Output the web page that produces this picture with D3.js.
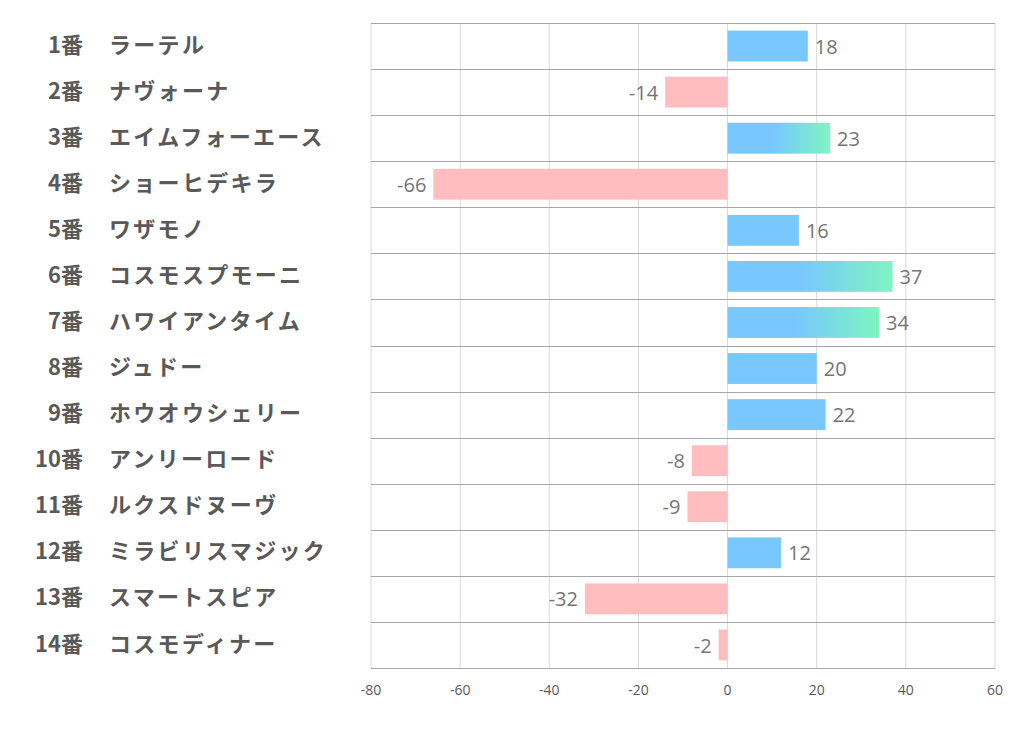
<!DOCTYPE html>
<html><head><meta charset="utf-8">
<script src="https://cdn.jsdelivr.net/npm/d3@7"></script>
<style>body{margin:0;background:#fff;} svg{display:block;}</style>
</head><body>
<svg id="c" width="1022" height="730"></svg>
<script>
const numbers = ["1番","2番","3番","4番","5番","6番","7番","8番","9番","10番","11番","12番","13番","14番"];
const names = ["ラーテル","ナヴォーナ","エイムフォーエース","ショーヒデキラ","ワザモノ","コスモスプモーニ","ハワイアンタイム","ジュドー","ホウオウシェリー","アンリーロード","ルクスドヌーヴ","ミラビリスマジック","スマートスピア","コスモディナー"];
const values = [18,-14,23,-66,16,37,34,20,22,-8,-9,12,-32,-2];
const xTicks = [-80,-60,-40,-20,0,20,40,60];

const svg = d3.select("#c");
const m = {l:371, r:995, t:23, b:668};
const x = d3.scaleLinear().domain([-80,60]).range([m.l, m.r]);
const y = d3.scaleBand().domain(d3.range(values.length)).range([m.t, m.b]).paddingInner(0.33).paddingOuter(0.165);
const rows = d3.scaleBand().domain(d3.range(values.length)).range([m.t, m.b]);

const top3 = values.slice().sort((a,b)=>b-a).slice(0,3);
const defs = svg.append("defs");
const g = defs.append("linearGradient").attr("id","grad").attr("x1","0").attr("x2","1").attr("y1","0").attr("y2","0");
g.append("stop").attr("offset","0.45").attr("stop-color","#78c8fe");
g.append("stop").attr("offset","1").attr("stop-color","#7ef5c0");

// vertical grid
svg.append("g").selectAll("line").data(xTicks).join("line")
  .attr("x1",d=>x(d)).attr("x2",d=>x(d)).attr("y1",m.t).attr("y2",m.b)
  .attr("stroke","#d9d9d9").attr("stroke-width",1);
// horizontal row lines
svg.append("g").selectAll("line").data(d3.range(values.length+1)).join("line")
  .attr("x1",m.l).attr("x2",m.r)
  .attr("y1",i=>Math.round(i<values.length? rows(i): m.b)+0.5).attr("y2",i=>Math.round(i<values.length? rows(i): m.b)+0.5)
  .attr("stroke","#a6a6a6").attr("stroke-width",1);

// bars
svg.append("g").selectAll("rect").data(values).join("rect")
  .attr("x",d=>x(Math.min(0,d))).attr("width",d=>Math.abs(x(d)-x(0)))
  .attr("y",(d,i)=>y(i)).attr("height",y.bandwidth())
  .attr("fill",d=> d<0 ? "#ffbdbf" : (top3.includes(d) ? "url(#grad)" : "#78c8fe"));

// value labels
svg.append("g").selectAll("text").data(values).join("text")
  .attr("x",d=> d<0 ? x(d)-7 : x(d)+7)
  .attr("y",(d,i)=>y(i)+y.bandwidth()/2)
  .attr("dy","0.38em")
  .attr("text-anchor",d=> d<0 ? "end":"start")
  .attr("font-family","'Open Sans','Noto Sans',sans-serif").attr("font-size",20)
  .attr("fill","#757575").text(d=>d);

// x axis tick labels
svg.append("g").selectAll("text").data(xTicks).join("text")
  .attr("x",d=>x(d)).attr("y",695).attr("text-anchor","middle")
  .attr("font-family","'Open Sans','Noto Sans',sans-serif").attr("font-size",14)
  .attr("fill","#595959").text(d=>d);

// category labels
const lab = svg.append("g").attr("font-family","'Noto Sans CJK JP',sans-serif").attr("font-weight","bold").attr("font-size",22).attr("fill","#595959");
lab.selectAll("text.n").data(numbers).join("text").attr("class","n")
  .attr("x",83).attr("y",(d,i)=>rows(i)+rows.bandwidth()/2).attr("dy","0.3em").attr("text-anchor","end").text(d=>d);
lab.selectAll("text.m").data(names).join("text").attr("class","m")
  .attr("x",109).attr("y",(d,i)=>rows(i)+rows.bandwidth()/2).attr("dy","0.3em").attr("text-anchor","start")
  .attr("letter-spacing",2.3).text(d=>d);
</script>
</body></html>
